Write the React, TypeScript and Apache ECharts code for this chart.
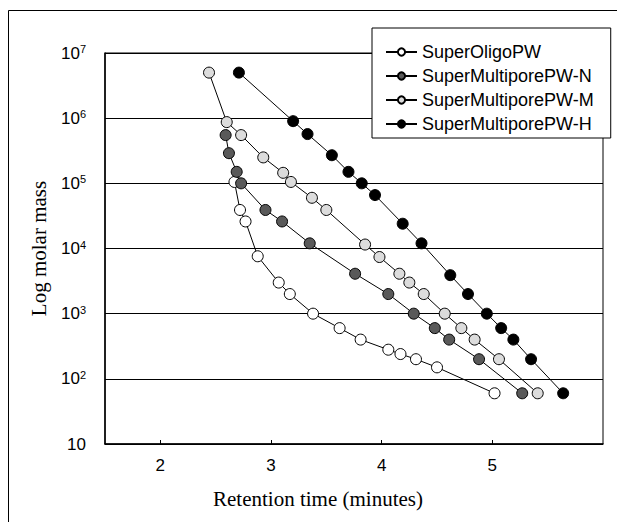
import React, { useEffect, useRef } from "react";
import * as echarts from "echarts";

// retention time (min) / molar mass
const oligoTime = [2.67, 2.72, 2.77, 2.88, 3.07, 3.17, 3.38, 3.62, 3.81, 4.06, 4.17, 4.31, 4.5, 5.02];
const oligoMass = [105000, 39000, 26000, 7600, 3000, 2000, 1000, 600, 400, 280, 240, 200, 150, 60];

const nTime = [2.59, 2.62, 2.69, 2.73, 2.95, 3.1, 3.35, 3.76, 4.06, 4.29, 4.48, 4.61, 4.88, 5.27];
const nMass = [550000, 290000, 150000, 100000, 39000, 26000, 12000, 4100, 2000, 1000, 600, 400, 200, 60];

const mTime = [2.44, 2.6, 2.73, 2.93, 3.11, 3.18, 3.37, 3.5, 3.85, 3.98, 4.16, 4.25, 4.38, 4.57, 4.72, 4.84, 5.06, 5.41];
const mMass = [5000000, 870000, 550000, 250000, 145000, 105000, 60000, 39000, 11500, 7400, 4100, 3000, 2000, 1000, 600, 400, 200, 60];

const hTime = [2.71, 3.2, 3.33, 3.55, 3.7, 3.82, 3.94, 4.19, 4.36, 4.62, 4.78, 4.95, 5.08, 5.19, 5.35, 5.64];
const hMass = [5000000, 900000, 570000, 270000, 150000, 100000, 66000, 24000, 12000, 3900, 2000, 1000, 600, 400, 200, 60];

const seriesNames = ["SuperOligoPW", "SuperMultiporePW-N", "SuperMultiporePW-M", "SuperMultiporePW-H"];
const seriesFills = ["#ffffff", "#595959", "#dcdcdc", "#000000"];
const xTicks = [2, 3, 4, 5];

const SANS = "'Liberation Sans', Arial, sans-serif";
const SERIF = "'Liberation Serif', 'Times New Roman', serif";

const pairs = (t: number[], m: number[]) => t.map((v, i) => [v, m[i]]);

export default function App() {
	const chartRef = useRef<HTMLDivElement>(null);

	useEffect(() => {
		document.body.style.margin = "0";
		if (!chartRef.current) return;
		const chart = echarts.init(chartRef.current, undefined, { renderer: "svg" });

		const allData = [
			pairs(oligoTime, oligoMass),
			pairs(nTime, nMass),
			pairs(mTime, mMass),
			pairs(hTime, hMass),
		];

		const frameStyle = { stroke: "#000", lineWidth: 1 };

		chart.setOption({
			animation: false,
			backgroundColor: "#fff",
			// outer frame: only top and left edges are inside the picture
			graphic: [
				{ type: "line", shape: { x1: 8.5, y1: 10.5, x2: 617, y2: 10.5 }, style: frameStyle, silent: true },
				{ type: "line", shape: { x1: 8.5, y1: 10.5, x2: 8.5, y2: 522 }, style: frameStyle, silent: true },
			],
			grid: { left: 105, right: 14, top: 53, bottom: 78, show: true, borderColor: "#000", borderWidth: 1 },
			legend: {
				left: 372,
				top: 28,
				orient: "vertical",
				itemWidth: 31,
				itemHeight: 9,
				itemGap: 6,
				padding: [15, 17, 5, 13],
				backgroundColor: "#fff",
				borderColor: "#000",
				borderWidth: 1,
				textStyle: { fontFamily: SANS, fontSize: 18, color: "#000" },
				data: seriesNames,
			},
			xAxis: {
				type: "value",
				min: 1.5,
				max: 6,
				name: "Retention time (minutes)",
				nameLocation: "middle",
				nameGap: 44,
				nameTextStyle: { fontFamily: SERIF, fontSize: 21, color: "#000", padding: [0, 72, 0, 0] },
				axisLine: { lineStyle: { color: "#000", width: 1.5 } },
				axisTick: { inside: true, length: 4, lineStyle: { color: "#000" }, customValues: xTicks },
				axisLabel: { fontFamily: SANS, fontSize: 17, color: "#000", margin: 13, customValues: xTicks },
				splitLine: { show: false },
			},
			yAxis: {
				type: "log",
				logBase: 10,
				min: 10,
				max: 10000000,
				splitNumber: 6,
				name: "Log molar mass",
				nameLocation: "middle",
				nameGap: 56,
				nameTextStyle: { fontFamily: SERIF, fontSize: 21, color: "#000" },
				axisLine: { show: true, lineStyle: { color: "#000", width: 1.5 } },
				axisTick: { show: false },
				axisLabel: {
					margin: 19,
					color: "#000",
					fontFamily: SANS,
					fontSize: 17,
					formatter: (v: number) => {
						const e = Math.round(Math.log10(v));
						return e === 1 ? "10" : `10{s|${e}}`;
					},
					rich: {
						s: { fontFamily: SANS, fontSize: 11, color: "#000", verticalAlign: "top", padding: [0, 0, 8, 0] },
					},
				},
				splitLine: { show: true, lineStyle: { color: "#000", width: 1 } },
			},
			series: seriesNames.map((name, i) => ({
				name,
				type: "line",
				data: allData[i],
				symbol: "circle",
				symbolSize: 11,
				lineStyle: { color: "#000", width: 1 },
				itemStyle: { color: seriesFills[i], borderColor: "#000", borderWidth: 1 },
				z: 2 + i,
			})),
		});

		return () => chart.dispose();
	}, []);

	return <div ref={chartRef} style={{ width: 617, height: 522 }} />;
}
